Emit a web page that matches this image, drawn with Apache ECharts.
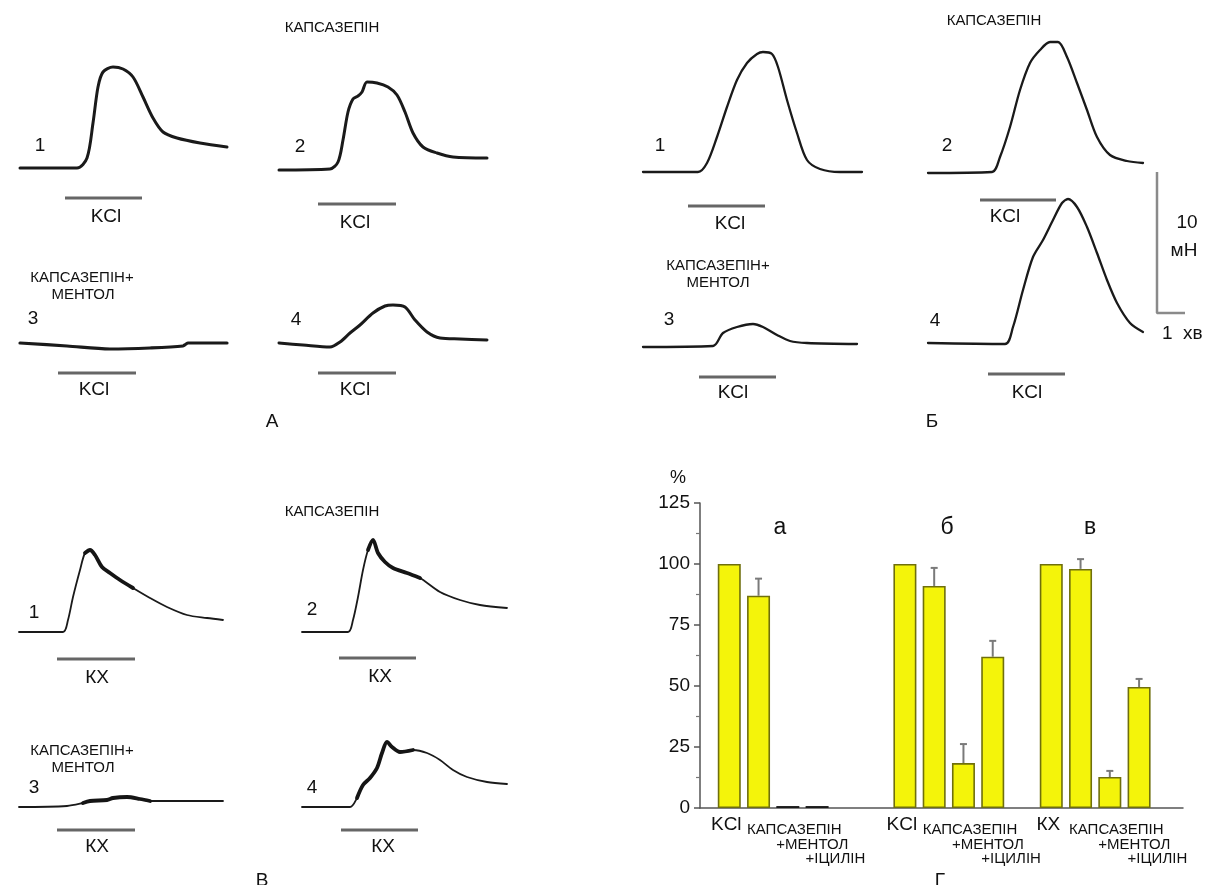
<!DOCTYPE html>
<html>
<head>
<meta charset="utf-8">
<script src="https://cdn.jsdelivr.net/npm/echarts@6/dist/echarts.min.js"></script>
<style>
html,body{margin:0;padding:0;background:#fff;}
#c{width:1207px;height:885px;}
</style>
</head>
<body>
<div id="c"></div>
<script>
// ---------- DATA (time, amplitude in arbitrary units) ----------
// Panel А (KCl)
const traceA1 = [[0,0],[57,0],[67,10],[73,45],[78,81],[83,96],[93,101],[103,99],[113,91],[123,71],[133,50],[143,36],[157,30],[180,25],[207,21]];
const traceA2 = [[0,0],[51,1],[59,8],[64,30],[69,58],[74,71],[79,74],[83,78],[88,88],[98,87],[109,83],[118,75],[126,58],[134,37],[144,23],[158,17],[174,13],[208,12]];
const traceA3 = [[0,0],[47,-3],[90,-6],[130,-5],[163,-3],[166,-1],[168,0],[207,0]];
const traceA4 = [[0,0],[24,-2],[51,-4],[61,1],[71,10],[81,18],[94,30],[106,37],[114,38],[126,36],[136,23],[148,11],[161,5],[181,4],[208,3]];
// Panel Б (KCl)
const traceB1 = [[0,0],[55,0],[64,9],[74,35],[84,65],[94,92],[104,109],[114,118],[120,120],[129,118],[135,105],[144,72],[154,39],[164,12],[177,3],[197,0],[219,0]];
const traceB2 = [[0,0],[64,1],[72,16],[82,46],[92,83],[102,110],[112,123],[122,131],[130,131],[139,116],[149,90],[159,63],[169,36],[182,18],[199,12],[215,10]];
const traceB3 = [[0,0],[70,1],[80,14],[94,20],[110,23],[120,20],[134,12],[147,6],[164,4],[214,3]];
const traceB4 = [[0,0],[77,-1],[85,16],[95,53],[105,86],[115,103],[125,123],[134,140],[140,144],[149,136],[159,116],[169,90],[179,63],[189,40],[202,20],[215,11]];
// Panel В (КХ)
const traceC1 = [[0,0],[44,0],[49,12],[54,35],[61,62],[66,79],[71,82],[76,77],[83,65],[91,59],[101,52],[114,44],[131,34],[148,25],[168,17],[188,14],[204,12]];
const traceC2 = [[0,0],[46,0],[51,12],[56,35],[61,62],[66,82],[71,92],[76,79],[83,70],[91,64],[105,59],[118,54],[138,40],[158,32],[178,27],[205,24]];
const traceC3 = [[0,0],[48,1],[64,4],[71,6],[88,7],[94,9],[108,10],[121,8],[131,6],[204,6]];
const traceC4 = [[0,0],[48,0],[55,9],[61,22],[68,29],[75,39],[80,54],[85,65],[90,60],[98,55],[111,57],[125,54],[138,47],[151,37],[165,30],[185,25],[205,23]];
// stimulus application periods [on, off, marker level]
const stimA = [[45,122,-30],[39,117,-34],[38,116,-30],[39,117,-30]];
const stimB = [[45,122,-34],[52,128,-27],[56,133,-30],[60,137,-31]];
const stimC = [[38,116,-27],[37,114,-26],[38,116,-23],[39,116,-23]];
// noisy (thick) portions of the КХ traces [from, to]
const noisyC = [[64,116],[66,122],[64,135],[55,116]];
// scale bar: 10 mN, 1 min
const scaleBar = [[0,10],[0,0],[1,0]];

// Panel Г (bar chart, %)
const barSlots = [1,2,3,4, 7,8,9,10, 12,13,14,15];
const barValues = [100,87,0.8,0.8, 100,91,18.4,62, 100,98,12.7,49.6];
const barErrors = [0,7,0,0, 0,7.4,7.8,6.5, 0,4,2.5,3.3];
const barLabels = ['KCl','КАПСАЗЕПІН','+МЕНТОЛ','+ІЦИЛІН','KCl','КАПСАЗЕПІН','+МЕНТОЛ','+ІЦИЛІН','КХ','КАПСАЗЕПІН','+МЕНТОЛ','+ІЦИЛІН'];
const groupTitles = ['а','б','в'];
const yTicks = {min:0, max:125, interval:25};

// ---------- LAYOUT ----------
const FONT = '"Liberation Sans", Arial, Helvetica, sans-serif';
const traceDefs = [
  {d:traceA1, s:stimA[0], o:[20,168],  w:3.0},
  {d:traceA2, s:stimA[1], o:[279,170], w:3.0},
  {d:traceA3, s:stimA[2], o:[20,343],  w:3.2},
  {d:traceA4, s:stimA[3], o:[279,343], w:3.0},
  {d:traceB1, s:stimB[0], o:[643,172], w:2.3},
  {d:traceB2, s:stimB[1], o:[928,173], w:2.3},
  {d:traceB3, s:stimB[2], o:[643,347], w:2.3},
  {d:traceB4, s:stimB[3], o:[928,343], w:2.3},
  {d:traceC1, s:stimC[0], o:[19,632],  w:1.8, n:noisyC[0]},
  {d:traceC2, s:stimC[1], o:[302,632], w:1.8, n:noisyC[1]},
  {d:traceC3, s:stimC[2], o:[19,807],  w:1.8, n:noisyC[2]},
  {d:traceC4, s:stimC[3], o:[302,807], w:1.8, n:noisyC[3]}
];

const grid = [], xAxis = [], yAxis = [], series = [];
traceDefs.forEach((t, i) => {
  const amps = t.d.map(p => p[1]);
  const xMax = t.d[t.d.length-1][0];
  const yMax = Math.max.apply(null, amps) + 4;
  const yMin = Math.min(t.s[2], Math.min.apply(null, amps)) - 4;
  grid.push({left: t.o[0], top: t.o[1] - yMax, width: xMax, height: yMax - yMin});
  xAxis.push({gridIndex:i, type:'value', min:0, max:xMax, show:false});
  yAxis.push({gridIndex:i, type:'value', min:yMin, max:yMax, show:false});
  series.push({type:'line', xAxisIndex:i, yAxisIndex:i, data:t.d, symbol:'none', smooth:0.3, clip:false,
    lineStyle:{color:'#1a1a1a', width:t.w, cap:'round', join:'round'}, silent:true});
  if (t.n) {
    series.push({type:'line', xAxisIndex:i, yAxisIndex:i, data:t.d.filter(p => p[0] >= t.n[0] && p[0] <= t.n[1]), symbol:'none', smooth:0.3, clip:false,
      lineStyle:{color:'#151515', width:3.8, cap:'round', join:'round'}, silent:true});
  }
  series.push({type:'line', xAxisIndex:i, yAxisIndex:i, data:[[t.s[0], t.s[2]],[t.s[1], t.s[2]]], symbol:'none', clip:false,
    lineStyle:{color:'#666', width:3}, silent:true});
});

// scale bar grid
let gi = traceDefs.length;
grid.push({left:1157, top:172, width:28, height:141});
xAxis.push({gridIndex:gi, type:'value', min:0, max:1, show:false});
yAxis.push({gridIndex:gi, type:'value', min:0, max:10, show:false});
series.push({type:'line', xAxisIndex:gi, yAxisIndex:gi, data:scaleBar, symbol:'none', clip:false,
  lineStyle:{color:'#8a8a8a', width:2.5}, silent:true});

// bar chart grid
gi++;
const bg = gi;
grid.push({left:700, top:503, width:483, height:305});
xAxis.push({gridIndex:bg, type:'value', min:0, max:16.5, axisLine:{show:true, lineStyle:{color:'#555', width:1.5}}, axisTick:{show:false}, axisLabel:{show:false}, splitLine:{show:false}});
yAxis.push({gridIndex:bg, type:'value', min:yTicks.min, max:yTicks.max, interval:yTicks.interval,
  axisLine:{show:true, lineStyle:{color:'#555', width:1.5}},
  axisTick:{show:true, length:6, lineStyle:{color:'#555', width:1.5}},
  minorTick:{show:true, splitNumber:2, length:4, lineStyle:{color:'#777', width:1.2}},
  axisLabel:{fontSize:19, color:'#111', fontFamily:FONT, margin:10},
  splitLine:{show:false}});

series.push({type:'bar', xAxisIndex:bg, yAxisIndex:bg, barWidth:23,
  data: barSlots.map((s,i) => barValues[i] < 1
    ? {value:[s, barValues[i]], itemStyle:{color:'#1a1a1a', borderColor:'#1a1a1a'}}
    : {value:[s, barValues[i]]}),
  itemStyle:{color:'#f4f40a', borderColor:'#6f6f0c', borderWidth:1.6}, silent:true});

series.push({type:'custom', xAxisIndex:bg, yAxisIndex:bg, silent:true,
  data: barSlots.map((s,i) => [s, barValues[i], barErrors[i]]),
  renderItem: function(params, api){
    const e = api.value(2);
    if (!e) return null;
    const p0 = api.coord([api.value(0), api.value(1)]);
    const p1 = api.coord([api.value(0), api.value(1) + e]);
    const st = {stroke:'#7a7a7a', lineWidth:2};
    return {type:'group', children:[
      {type:'line', shape:{x1:p0[0], y1:p0[1], x2:p1[0], y2:p1[1]}, style:st},
      {type:'line', shape:{x1:p1[0]-3.5, y1:p1[1], x2:p1[0]+3.5, y2:p1[1]}, style:st}
    ]};
  }});

series.push({type:'custom', xAxisIndex:bg, yAxisIndex:bg, silent:true,
  data: barSlots.map((s,i) => [s, i % 4]),
  renderItem: function(params, api){
    const idx = params.dataIndex;
    const lvl = api.value(1);
    const p = api.coord([api.value(0), 0]);
    const half = 11.5;
    if (lvl === 0) {
      return {type:'text', x:p[0]-3, y:p[1]+17, style:{text:barLabels[idx], fontSize:19, fontFamily:FONT, fill:'#111', align:'center', verticalAlign:'middle'}};
    }
    const dy = [0, 22, 37, 51][lvl];
    return {type:'text', x:p[0]-half, y:p[1]+dy, style:{text:barLabels[idx], fontSize:15, fontFamily:FONT, fill:'#111', align:'left', verticalAlign:'middle'}};
  }});

// ---------- TEXT ----------
function T(text, x, y, size, align, va) {
  return {type:'text', x:x, y:y, silent:true, style:{text:text, fontSize:size, fontFamily:FONT, fill:'#111', align:align || 'center', verticalAlign:va || 'middle'}};
}
const texts = [
  // А
  T('КАПСАЗЕПІН', 332, 28, 15),
  T('1', 40, 146, 19), T('2', 300, 147, 19), T('3', 33, 319, 19), T('4', 296, 320, 19),
  T('КАПСАЗЕПІН+', 82, 278, 15), T('МЕНТОЛ', 83, 295, 15),
  T('KCl', 106, 217, 19), T('KCl', 355, 223, 19), T('KCl', 94, 390, 19), T('KCl', 355, 390, 19),
  T('А', 272, 422, 19),
  // Б
  T('КАПСАЗЕПІН', 994, 21, 15),
  T('1', 660, 146, 19), T('2', 947, 146, 19), T('3', 669, 320, 19), T('4', 935, 321, 19),
  T('КАПСАЗЕПІН+', 718, 266, 15), T('МЕНТОЛ', 718, 283, 15),
  T('KCl', 730, 224, 19), T('KCl', 1005, 217, 19), T('KCl', 733, 393, 19), T('KCl', 1027, 393, 19),
  T('10', 1187, 223, 19), T('мН', 1184, 251, 19), T('1  хв', 1162, 334, 19, 'left'),
  T('Б', 932, 422, 19),
  // В
  T('КАПСАЗЕПІН', 332, 512, 15),
  T('1', 34, 613, 19), T('2', 312, 610, 19), T('3', 34, 788, 19), T('4', 312, 788, 19),
  T('КАПСАЗЕПІН+', 82, 751, 15), T('МЕНТОЛ', 83, 768, 15),
  T('КХ', 97, 678, 19), T('КХ', 380, 677, 19), T('КХ', 97, 847, 19), T('КХ', 383, 847, 19),
  T('В', 262, 871, 19, 'center', 'top'),
  // Г
  T('%', 678, 478, 18),
  T(groupTitles[0], 780, 528, 23), T(groupTitles[1], 947, 528, 23), T(groupTitles[2], 1090, 528, 23),
  T('Г', 940, 871, 19, 'center', 'top')
];

const chart = echarts.init(document.getElementById('c'), null, {renderer:'canvas'});
chart.setOption({
  backgroundColor:'#ffffff',
  animation:false,
  grid:grid, xAxis:xAxis, yAxis:yAxis, series:series,
  graphic:{elements:texts}
});
</script>
</body>
</html>
